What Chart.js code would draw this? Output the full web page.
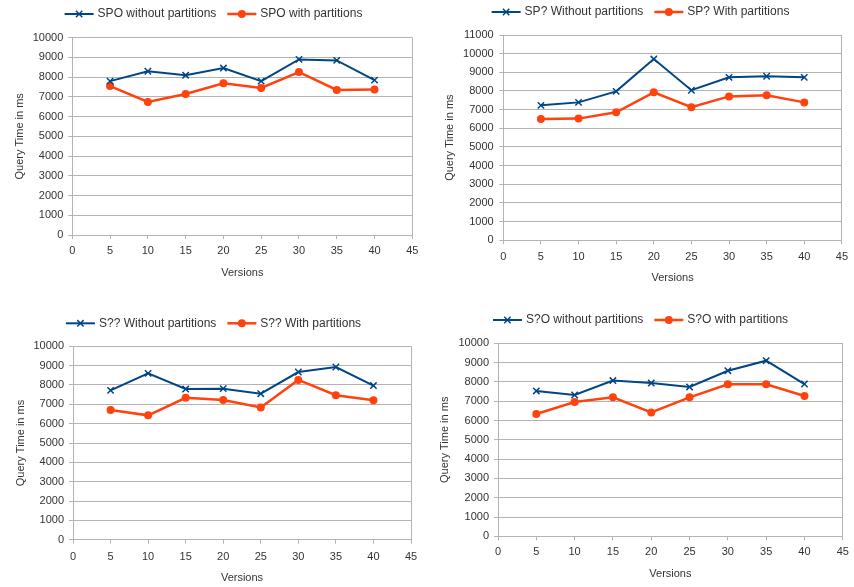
<!DOCTYPE html>
<html>
<head>
<meta charset="utf-8">
<script src="https://cdn.jsdelivr.net/npm/chart.js@4/dist/chart.umd.min.js"></script>
<style>
  body { margin: 0; background: #fff; }
  #wrap { position: relative; width: 854px; height: 587px; }
  canvas { position: absolute; }
</style>
</head>
<body>
<div id="wrap">
  <canvas id="c1" width="427" height="290" style="left:0;top:0"></canvas>
  <canvas id="c2" width="427" height="290" style="left:427px;top:0"></canvas>
  <canvas id="c3" width="427" height="297" style="left:0;top:290px"></canvas>
  <canvas id="c4" width="427" height="297" style="left:427px;top:290px"></canvas>
</div>
<script>
// ---- data ----
const versions = [5, 10, 15, 20, 25, 30, 35, 40];

const spoWithout = [7800, 8300, 8100, 8460, 7800, 8900, 8850, 7850];
const spoWith    = [7550, 6740, 7150, 7690, 7450, 8260, 7350, 7380];

const spqWithout = [7230, 7390, 7980, 9710, 8040, 8730, 8790, 8730];
const spqWith    = [6500, 6520, 6860, 7930, 7130, 7710, 7770, 7390];

const sqqWithout = [7720, 8600, 7790, 7810, 7550, 8670, 8930, 7970];
const sqqWith    = [6710, 6430, 7340, 7220, 6840, 8260, 7470, 7210];

const sqoWithout = [7530, 7320, 8070, 7940, 7740, 8580, 9100, 7890];
const sqoWith    = [6340, 6960, 7200, 6420, 7200, 7880, 7880, 7270];

const xMax = 45, xStep = 5;
const yStep = 1000;

const BLUE = "#004586";
const ORANGE = "#ff420e";
const GRID = "#b3b3b3";
const TEXT = "#333333";
const FONT = '"Liberation Sans", Arial, sans-serif';

// legend: line sample with marker, then label
const lineLegend = {
  id: "lineLegend",
  afterDraw(chart, args, opts) {
    const ctx = chart.ctx;
    ctx.save();
    ctx.font = "12px " + FONT;
    const sample = 29, gapText = 4, gapItem = 11;
    const items = chart.data.datasets.map(ds => ({ ds: ds, w: ctx.measureText(ds.label).width }));
    let total = gapItem * (items.length - 1);
    items.forEach(it => { total += sample + gapText + it.w; });
    let x = chart.width / 2 - total / 2;
    const y = opts.y;
    items.forEach(it => {
      const ds = it.ds;
      ctx.strokeStyle = ds.borderColor;
      ctx.lineWidth = ds.borderWidth;
      ctx.beginPath();
      ctx.moveTo(x, y);
      ctx.lineTo(x + sample, y);
      ctx.stroke();
      const cx = x + sample / 2, r = ds.pointRadius;
      if (ds.pointStyle === "circle") {
        ctx.fillStyle = ds.borderColor;
        ctx.beginPath();
        ctx.arc(cx, y, r, 0, Math.PI * 2);
        ctx.fill();
      } else {
        ctx.lineWidth = ds.pointBorderWidth;
        const d = r * Math.SQRT1_2;
        ctx.beginPath();
        ctx.moveTo(cx - d, y - d); ctx.lineTo(cx + d, y + d);
        ctx.moveTo(cx - d, y + d); ctx.lineTo(cx + d, y - d);
        ctx.stroke();
      }
      ctx.fillStyle = TEXT;
      ctx.textBaseline = "middle";
      ctx.textAlign = "left";
      ctx.fillText(ds.label, x + sample + gapText, y);
      x += sample + gapText + it.w + gapItem;
    });
    ctx.restore();
  }
};

function points(arr) {
  return versions.map((v, i) => ({ x: v, y: arr[i] }));
}

function makeChart(id, name, withoutWord, withWord, without, withP, yMax, lay) {
  new Chart(document.getElementById(id), {
    type: "line",
    data: {
      datasets: [
        {
          label: name + " " + withoutWord + " partitions",
          data: points(without),
          borderColor: BLUE,
          backgroundColor: BLUE,
          borderWidth: 2,
          pointStyle: "crossRot",
          pointRadius: 4.5,
          pointBorderWidth: 1.5,
          tension: 0
        },
        {
          label: name + " " + withWord + " partitions",
          data: points(withP),
          borderColor: ORANGE,
          backgroundColor: ORANGE,
          borderWidth: 2.5,
          pointStyle: "circle",
          pointRadius: 4,
          pointBorderWidth: 0,
          tension: 0
        }
      ]
    },
    options: {
      responsive: false,
      animation: false,
      layout: { padding: { left: lay.pl, right: lay.pr, top: lay.pt, bottom: lay.pb } },
      plugins: {
        legend: { display: false },
        tooltip: { enabled: false },
        lineLegend: { y: lay.legendY }
      },
      scales: {
        x: {
          type: "linear",
          min: 0,
          max: xMax,
          afterFit: s => { s.height = lay.xH; },
          ticks: { stepSize: xStep, padding: lay.xPad, color: TEXT, font: { family: FONT, size: 11 },
                   callback: v => String(v) },
          grid: {
            color: c => (c.tick && c.tick.value === xMax ? GRID : "rgba(0,0,0,0)"),
            tickColor: GRID,
            tickLength: 4
          },
          border: { display: true, color: GRID },
          title: { display: true, text: "Versions", color: TEXT, padding: 0, font: { family: FONT, size: 11 } }
        },
        y: {
          min: 0,
          max: yMax,
          afterFit: s => { s.width = lay.yW; },
          ticks: { stepSize: yStep, padding: lay.yPad, color: TEXT, font: { family: FONT, size: 11 },
                   callback: v => String(v) },
          grid: { color: GRID, tickColor: GRID, tickLength: 4 },
          border: { display: true, color: GRID },
          title: { display: true, text: "Query Time in ms", color: TEXT, padding: 0, font: { family: FONT, size: 11 } }
        }
      }
    },
    plugins: [lineLegend]
  });
}

makeChart("c1", "SPO", "without", "with", spoWithout, spoWith, 10000,
  { pl: 13, pr: 14.7, pt: 37.7, pb: 10.4, yW: 59.3, xH: 44.6, legendY: 14, xPad: 5, yPad: 5 });
makeChart("c2", "SP?", "Without", "With", spqWithout, spqWith, 11000,
  { pl: 16.7, pr: 11.3, pt: 35, pb: 5.4, yW: 59.6, xH: 44.3, legendY: 12, xPad: 6, yPad: 5.6 });
makeChart("c3", "S??", "Without", "With", sqqWithout, sqqWith, 10000,
  { pl: 14, pr: 16, pt: 56.3, pb: 2.7, yW: 59, xH: 44.6, legendY: 33.3, xPad: 6.4, yPad: 5 });
makeChart("c4", "S?O", "without", "with", sqoWithout, sqoWith, 10000,
  { pl: 11.7, pr: 8, pt: 53.3, pb: 6.4, yW: 59.3, xH: 44.3, legendY: 30, xPad: 5.1, yPad: 5 });
</script>
</body>
</html>
